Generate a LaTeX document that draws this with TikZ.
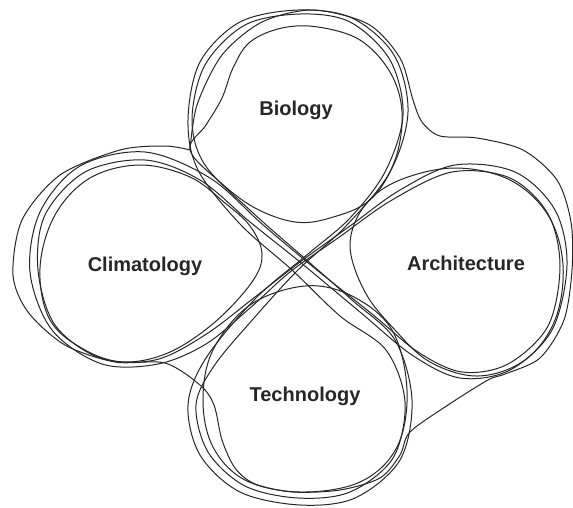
\documentclass[tikz,border=0pt]{standalone}
\usepackage{fontspec}
\setmainfont{Liberation Sans}
\begin{document}
\begin{tikzpicture}[x=1pt,y=-1pt,
  loop/.style={draw=black!85, line width=1pt, line join=round},
  lbl/.style={font=\fontsize{20}{22}\selectfont\bfseries, text=black!85, inner sep=0pt}]
\useasboundingbox (0,0) rectangle (573,507);
% labels
\node[lbl] (bio) at (296,110) {Biology};
\node[lbl] (cli) at (145,266) {Climatology};
\node[lbl] (arc) at (466,263) {Architecture};
\node[lbl] (tec) at (305,396) {Technology};
% inner blobs
\draw[loop] plot[smooth cycle, tension=0.6] coordinates {(190,150) (206,125) (222,98) (233,68) (250,42) (282,28) (318,27) (360,40) (390,72) (402,112) (395,160) (370,200) (330,218) (295,222) (255,208) (220,182)};
\draw[loop] plot[smooth cycle, tension=0.6] coordinates {(262,254) (250,226) (225,203) (190,177) (140,165) (90,178) (55,215) (40,268) (50,320) (85,350) (125,362) (170,352) (215,322) (252,282)};
\draw[loop] plot[smooth cycle, tension=0.6] coordinates {(350,245) (365,205) (400,180) (455,168) (510,180) (548,215) (563,265) (555,320) (525,360) (478,376) (430,362) (395,330) (365,292)};
\draw[loop] plot[smooth cycle, tension=0.6] coordinates {(305,286) (352,296) (392,330) (407,390) (397,447) (360,482) (300,492) (245,480) (213,447) (203,400) (213,350) (250,305)};
% figure-eight Climatology - Architecture
\draw[loop] plot[smooth cycle, tension=0.55] coordinates {(300,262) (350,226) (400,190) (455,165) (515,172) (555,210) (567,265) (552,330) (510,370) (460,378) (412,355) (360,312) (300,262) (250,222) (200,180) (145,160) (85,172) (45,215) (38,270) (55,325) (100,358) (155,360) (205,335) (255,297)};
\draw[loop] plot[smooth cycle, tension=0.55] coordinates {(290,272) (338,238) (392,200) (452,172) (510,178) (548,214) (560,266) (548,326) (508,364) (462,372) (418,352) (372,314) (312,266) (262,224) (210,178) (145,152) (80,166) (40,212) (30,272) (52,330) (102,364) (158,364) (206,344) (250,308)};
% figure-eight Biology - Technology
\draw[loop] plot[smooth cycle, tension=0.55] coordinates {(308,254) (350,218) (385,172) (403,115) (390,60) (350,22) (300,14) (245,25) (205,65) (192,120) (205,165) (252,212) (302,256) (352,300) (395,340) (412,400) (400,460) (355,498) (300,505) (240,492) (200,455) (188,405) (206,358) (256,298)};
\draw[loop] plot[smooth cycle, tension=0.55] coordinates {(298,270) (346,226) (390,172) (408,112) (394,55) (352,18) (298,10) (240,22) (200,62) (188,120) (198,170) (240,224) (292,270) (340,316) (386,350) (405,402) (393,458) (350,492) (298,498) (245,486) (208,452) (196,405) (214,366) (254,318)};
% outer four-lobed curve (sharp meeting at upper left)
\draw[loop] plot[smooth, tension=0.5] coordinates {(190,150) (197,105) (222,55) (262,22) (313,10) (368,24) (400,58) (413,100) (422,122) (440,136) (477,138) (523,150) (557,180) (571,222) (572,270) (564,320) (540,358) (505,374) (488,380) (448,405) (410,432) (400,455) (380,478) (340,490) (293,492) (255,484) (235,468) (222,440) (214,405) (200,385) (165,363) (115,362) (65,345) (28,312) (13,275) (22,220) (60,175) (120,150) (165,146) (190,150)};
\end{tikzpicture}
\end{document}
